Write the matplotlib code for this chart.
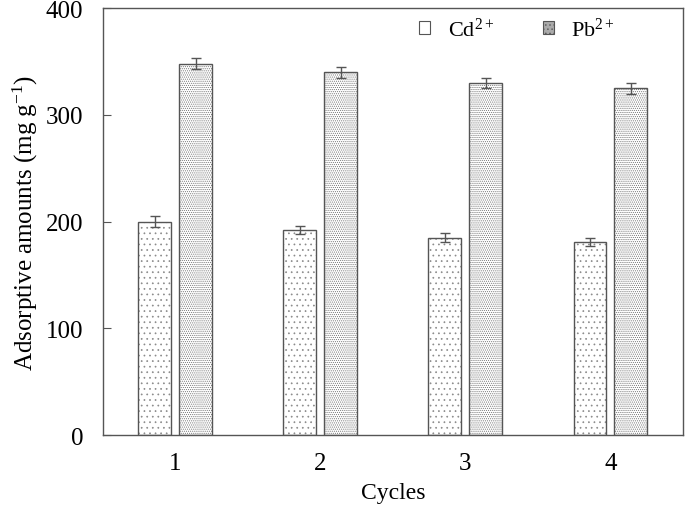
import matplotlib.pyplot as plt
import numpy as np
from matplotlib.patches import Patch

plt.rcParams['font.family'] = ['Liberation Serif', 'DejaVu Serif']
plt.rcParams['mathtext.fontset'] = 'custom'
plt.rcParams['mathtext.rm'] = 'Liberation Serif'
plt.rcParams['mathtext.it'] = 'Liberation Serif:italic'
plt.rcParams['mathtext.default'] = 'regular'
plt.rcParams['hatch.linewidth'] = 0.5

cycles = [1, 2, 3, 4]
cd_values = [200, 192, 185, 181]
pb_values = [348, 340, 330, 325]
cd_err = [5, 4, 4, 4]
pb_err = [5, 5, 5, 5]

x = np.array(cycles, dtype=float)
w = 0.227
off = 0.141

fig = plt.figure(figsize=(6.85, 5.06), dpi=100)
ax = fig.add_axes([0.150, 0.138, 0.847, 0.844])

edge = '#555555'
# hatch layer (hatch takes edge colour), then outline on top
ax.bar(x - off, cd_values, w, color='white', edgecolor='#8a8a8a', hatch='...',
       linewidth=0, zorder=2)
ax.bar(x + off, pb_values, w, color='white', edgecolor='#707070', hatch='........',
       linewidth=0, zorder=2)
ax.bar(x - off, cd_values, w, fill=False, edgecolor=edge, linewidth=1.0, zorder=2.5)
ax.bar(x + off, pb_values, w, fill=False, edgecolor=edge, linewidth=1.0, zorder=2.5)
ax.errorbar(x - off, cd_values, yerr=cd_err, fmt='none', ecolor='#555555',
            capsize=3.5, elinewidth=1.0, capthick=1.0, zorder=3)
ax.errorbar(x + off, pb_values, yerr=pb_err, fmt='none', ecolor='#555555',
            capsize=3.5, elinewidth=1.0, capthick=1.0, zorder=3)

# legend proxies
h1 = Patch(facecolor='white', edgecolor='#555555', hatch='.', linewidth=0.8)
h2 = Patch(facecolor='#aaaaaa', edgecolor='#555555', hatch='....', linewidth=0.8)

ax.set_xlim(0.5, 4.5)
ax.set_ylim(0, 400)
ax.set_yticks([0, 100, 200, 300, 400])
ax.set_xticks(cycles)
ax.tick_params(axis='y', direction='in', length=6, labelsize=18, pad=14,
               color='#555555')
ax.tick_params(axis='x', length=0, labelsize=18, pad=12)
for s in ax.spines.values():
    s.set_color('#555555')
    s.set_linewidth(1.0)

ax.set_xlabel('Cycles', fontsize=17, labelpad=6)
ax.set_ylabel('Adsorptive amounts (mg g$^{-1}$)', fontsize=18, labelpad=4)

leg = ax.legend([h1, h2], ['Cd$^{2+}$', 'Pb$^{2+}$'], loc='upper left',
                bbox_to_anchor=(0.51, 1.025), ncol=2,
                frameon=False, fontsize=16, handlelength=0.5,
                handleheight=0.5, columnspacing=2.2, handletextpad=0.8)

fig.savefig('out.png', dpi=100)
